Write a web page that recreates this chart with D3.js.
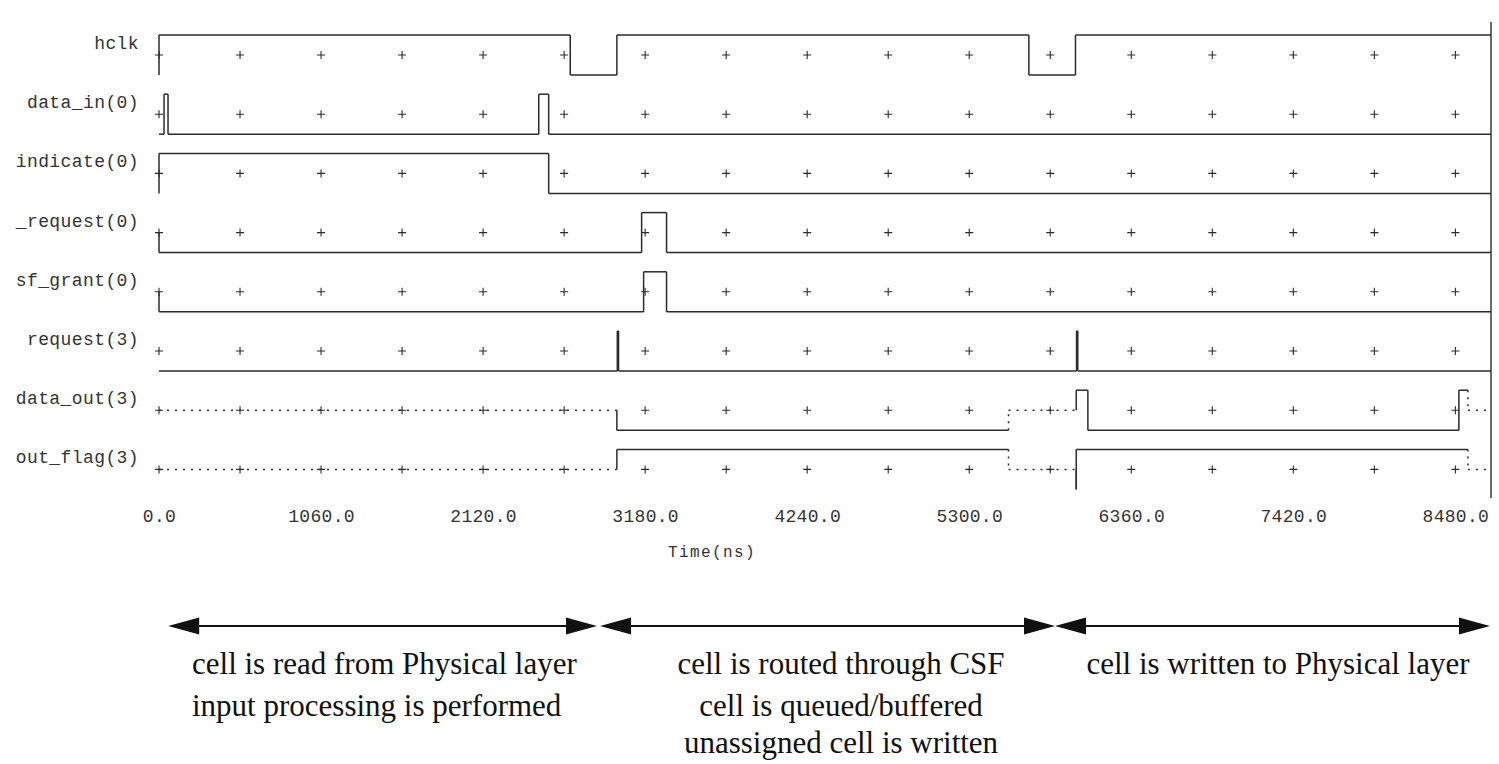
<!DOCTYPE html>
<html>
<head>
<meta charset="utf-8">
<script src="https://cdn.jsdelivr.net/npm/d3@7/dist/d3.min.js"></script>
<style>
  html, body { margin: 0; padding: 0; background: #fff; }
  svg { display: block; }
</style>
</head>
<body>
<svg id="chart" width="1499" height="764"></svg>
<script>
// ---------- data ----------
const signalNames = ["hclk", "data_in(0)", "indicate(0)", "_request(0)", "sf_grant(0)", "request(3)", "data_out(3)", "out_flag(3)"];
// each waveform: [time(ns), level] steps; level "0" low, "1" high, "X" unknown (mid, dotted)
const hclkWave     = [[0, "0"], [0, "1"], [2690, "0"], [2995, "1"], [5690, "0"], [5995, "1"]];
const dataInWave   = [[0, "0"], [33, "1"], [59, "0"], [2484, "1"], [2549, "0"]];
const indicateWave = [[0, "0"], [0, "1"], [2549, "0"]];
const requestWave0 = [[0, "X"], [0, "0"], [3157, "1"], [3320, "0"]];
const sfGrantWave  = [[0, "X"], [0, "0"], [3170, "1"], [3320, "0"]];
const requestWave3 = [[0, "0"], [2998, "1"], [3006, "0"], [6002, "1"], [6010, "0"]];
const dataOutWave  = [[0, "X"], [2995, "0"], [5557, "X"], [6000, "1"], [6076, "0"], [8503, "1"], [8562, "X"]];
const outFlagWave  = [[0, "X"], [2995, "1"], [5557, "X"], [6000, "0"], [6000, "1"], [8562, "X"]];
const waves = [hclkWave, dataInWave, indicateWave, requestWave0, sfGrantWave, requestWave3, dataOutWave, outFlagWave];

const tickValues = [0, 1060, 2120, 3180, 4240, 5300, 6360, 7420, 8480];
const gridTimes = d3.range(0, 8481, 530);
const timeEnd = 8713;
const axisTitle = "Time(ns)";

const phaseSpans = [[60, 2865], [2885, 5861], [5861, 8706]];
const phaseTexts = [
  ["cell is read from Physical layer", "input processing is performed"],
  ["cell is routed through CSF", "cell is queued/buffered", "unassigned cell is written"],
  ["cell is written to Physical layer"]
];

// ---------- layout ----------
const svg = d3.select("#chart");
const x = d3.scaleLinear().domain([0, timeEnd]).range([159, 1491]);
const rowTop = d3.scaleLinear().domain([0, 1]).range([35, 94.2]);
const rowH = 40;
const lvl = v => v === "1" ? 0 : v === "0" ? rowH : rowH / 2;
const ink = "#2b2b2b";
const mono = "'Liberation Mono', 'DejaVu Sans Mono', monospace";

// right border
svg.append("line").attr("x1", x(timeEnd)).attr("x2", x(timeEnd))
  .attr("y1", 22).attr("y2", 498).attr("stroke", ink).attr("stroke-width", 1.4);

signalNames.forEach((name, i) => {
  const g = svg.append("g").attr("transform", `translate(0,${rowTop(i)})`);
  // label
  g.append("text").attr("x", 139).attr("y", 14).attr("text-anchor", "end")
    .attr("font-family", mono).attr("font-size", 18).attr("letter-spacing", 0.4)
    .attr("fill", "#333").text(name);
  // grid plus marks
  g.selectAll("path.plus").data(gridTimes).join("path").attr("class", "plus")
    .attr("d", t => `M${x(t) - 4},${rowH / 2}h8M${x(t)},${rowH / 2 - 4}v8`)
    .attr("stroke", ink).attr("stroke-width", 1.1).attr("fill", "none");
  // waveform segments
  const w = waves[i];
  for (let k = 0; k < w.length; k++) {
    const [t, v] = w[k];
    const tNext = k + 1 < w.length ? w[k + 1][0] : timeEnd;
    if (tNext > t) {
      g.append("line").attr("x1", x(t)).attr("x2", x(tNext))
        .attr("y1", lvl(v)).attr("y2", lvl(v))
        .attr("stroke", ink).attr("stroke-width", 1.5)
        .attr("stroke-dasharray", v === "X" ? "2,6" : null);
    }
    if (k + 1 < w.length) {
      const vn = w[k + 1][1];
      g.append("line").attr("x1", x(tNext)).attr("x2", x(tNext))
        .attr("y1", lvl(v)).attr("y2", lvl(vn))
        .attr("stroke", ink).attr("stroke-width", 1.5)
        .attr("stroke-dasharray", vn === "X" ? "2,5" : null);
    }
  }
});

// time axis
const axis = d3.axisBottom(x).tickValues(tickValues).tickFormat(d3.format(".1f")).tickSize(0).tickPadding(0);
const ax = svg.append("g").attr("transform", "translate(0,507)").call(axis);
ax.select(".domain").remove();
ax.selectAll("text").attr("font-family", mono).attr("font-size", 18).attr("letter-spacing", 0.3)
  .attr("fill", "#333").attr("dy", "0.85em");
svg.append("text").attr("x", 712).attr("y", 557).attr("text-anchor", "middle")
  .attr("font-family", mono).attr("font-size", 16).attr("letter-spacing", 1.4)
  .attr("fill", "#333").text(axisTitle);

// phase arrows
const arrowY = 626, headL = 31, headH = 8.5;
phaseSpans.forEach(([a, b]) => {
  const x1 = x(a), x2 = x(b);
  svg.append("line").attr("x1", x1 + headL - 2).attr("x2", x2 - headL + 2)
    .attr("y1", arrowY).attr("y2", arrowY).attr("stroke", "#111").attr("stroke-width", 2);
  svg.append("path").attr("d", `M${x1},${arrowY}L${x1 + headL},${arrowY - headH}L${x1 + headL},${arrowY + headH}Z`).attr("fill", "#111");
  svg.append("path").attr("d", `M${x2},${arrowY}L${x2 - headL},${arrowY - headH}L${x2 - headL},${arrowY + headH}Z`).attr("fill", "#111");
});

const serif = "'Liberation Serif', 'Times New Roman', serif";
const textPos = [{x: 192, anchor: "start"}, {x: 841, anchor: "middle"}, {x: 1278, anchor: "middle"}];
const lineYs = [674, 716, 753];
phaseTexts.forEach((lines, i) => {
  lines.forEach((s, j) => {
    svg.append("text").attr("x", textPos[i].x).attr("y", lineYs[j])
      .attr("text-anchor", textPos[i].anchor).attr("font-family", serif)
      .attr("font-size", 31).attr("fill", "#111").text(s);
  });
});
</script>
</body>
</html>
